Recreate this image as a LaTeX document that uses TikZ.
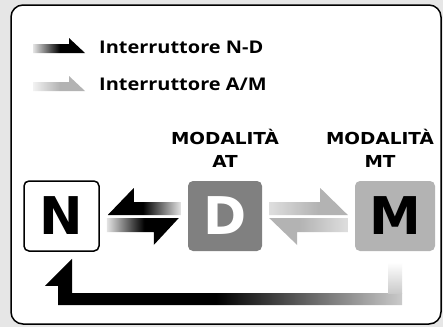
\documentclass[tikz,border=0pt]{standalone}
\usepackage{fontspec}
\usetikzlibrary{calc, positioning}

\newfontfamily\legendfont{Open Sans}[BoldFont={Open Sans Bold}, FakeStretch=1.14]
\newfontfamily\modefont{DejaVu Sans}[FakeStretch=1.12]
\newfontfamily\letterfont{DejaVu Sans}

\definecolor{pagebg}{HTML}{E6E6E6}
\definecolor{darkmode}{HTML}{808080}
\definecolor{lightmode}{HTML}{B3B3B3}
\definecolor{fadeend}{HTML}{E4E4E4}
\definecolor{grayend}{HTML}{DEDEDE}
\definecolor{paleend}{HTML}{F2F2F2}
\definecolor{loopgray}{HTML}{CACACA}

% gradients of the half arrows
\pgfdeclarehorizontalshading{darkright}{100bp}{color(0bp)=(black); color(49bp)=(black); color(75bp)=(fadeend); color(100bp)=(fadeend)}
\pgfdeclarehorizontalshading{darkleft}{100bp}{color(0bp)=(fadeend); color(25bp)=(fadeend); color(51bp)=(black); color(100bp)=(black)}
\pgfdeclarehorizontalshading{grayleft}{100bp}{color(0bp)=(grayend); color(25bp)=(grayend); color(56bp)=(lightmode); color(100bp)=(lightmode)}
\pgfdeclarehorizontalshading{grayright}{100bp}{color(0bp)=(lightmode); color(44bp)=(lightmode); color(75bp)=(grayend); color(100bp)=(grayend)}
\pgfdeclarehorizontalshading{legenddark}{100bp}{color(0bp)=(fadeend); color(25bp)=(fadeend); color(51bp)=(black); color(100bp)=(black)}
\pgfdeclarehorizontalshading{legendgray}{100bp}{color(0bp)=(paleend); color(25bp)=(paleend); color(51bp)=(lightmode); color(100bp)=(lightmode)}
\pgfdeclarehorizontalshading{loopfade}{100bp}{color(0bp)=(black); color(49bp)=(black); color(75bp)=(loopgray); color(100bp)=(loopgray)}

\tikzset{
  modebox/.style={minimum width=75pt, minimum height=70pt, inner sep=0pt,
    rounded corners=5pt, font=\letterfont\bfseries\fontsize{52}{52}\selectfont},
  modelabel/.style={align=center, inner sep=0pt,
    font=\modefont\bfseries\fontsize{16.5}{23}\selectfont},
  legendtext/.style={anchor=base west, inner sep=0pt,
    font=\legendfont\bfseries\fontsize{17.5}{20}\selectfont},
}

\begin{document}
\begin{tikzpicture}[x=1pt, y=-1pt]
  \useasboundingbox (0,0) rectangle (443,327);
  \fill[pagebg] (0,0) rectangle (443,327);
  \draw[line width=1.5pt, fill=white, rounded corners=12pt] (11,5) rectangle (441,324);

  % legend
  \node[legendtext] (lgnd) at (99,53) {Interruttore N-D};
  \node[legendtext] (lgam) at (99,90) {Interruttore A/M};
  \shade[shading=legenddark] ($(lgnd.base west)+(-66,0)$) -- ++(0,-9) -- ++(36,0) -- ++(0,-6) -- ++(16,15) -- cycle;
  \shade[shading=legendgray] ($(lgam.base west)+(-66,1)$) -- ++(0,-9) -- ++(36,0) -- ++(0,-6) -- ++(16,15) -- cycle;

  % modes
  \node[modebox, draw=black, line width=1.5pt, fill=white] (N) at (61.5,216) {N};
  \node[modebox, fill=darkmode, text=white, minimum width=74pt] (D) at (225,216) {D};
  \node[modebox, fill=lightmode, minimum width=80pt] (M) at (395,216) {M};
  \node[modelabel, above=13pt of D] (labAT) {MODALITÀ\\AT};
  \node[modelabel, above=13pt of M, xshift=-15pt] (labMT) {MODALITÀ\\MT};

  % N <-> D
  \shade[shading=darkright] ($(N.east)+(8,-1)$) -- ++(26,-27) -- ++(0,14) -- ($(D.west)+(-7,-14)$) -- ++(0,13) -- cycle;
  \shade[shading=darkleft] ($(N.east)+(7,2)$) -- ++(0,14) -- ++(47,0) -- ++(0,13) -- ($(D.west)+(-9,2)$) -- cycle;

  % D <-> M
  \shade[shading=grayleft] ($(D.east)+(7,-1)$) -- ++(0,-13) -- ++(51,0) -- ++(0,-14) -- ($(M.west)+(-7,-1)$) -- cycle;
  \shade[shading=grayright] ($(D.east)+(7,2)$) -- ++(28,27) -- ++(0,-13) -- ($(M.west)+(-7,16)$) -- ++(0,-14) -- cycle;

  % M back to N
  \coordinate (looptip) at ($(N.south)+(10.5,7)$);
  \coordinate (loopend) at ($(M.south)+(7,42)$);
  \shade[shading=loopfade] (looptip) -- ++(-27,27) -- ++(13,0) |- ($(loopend)+(0,12)$) -- (loopend) -- (looptip |- loopend) -- cycle;
  \shade[top color=white, bottom color=loopgray] ($(M.south)+(-7,11)$) rectangle (loopend);
\end{tikzpicture}
\end{document}
